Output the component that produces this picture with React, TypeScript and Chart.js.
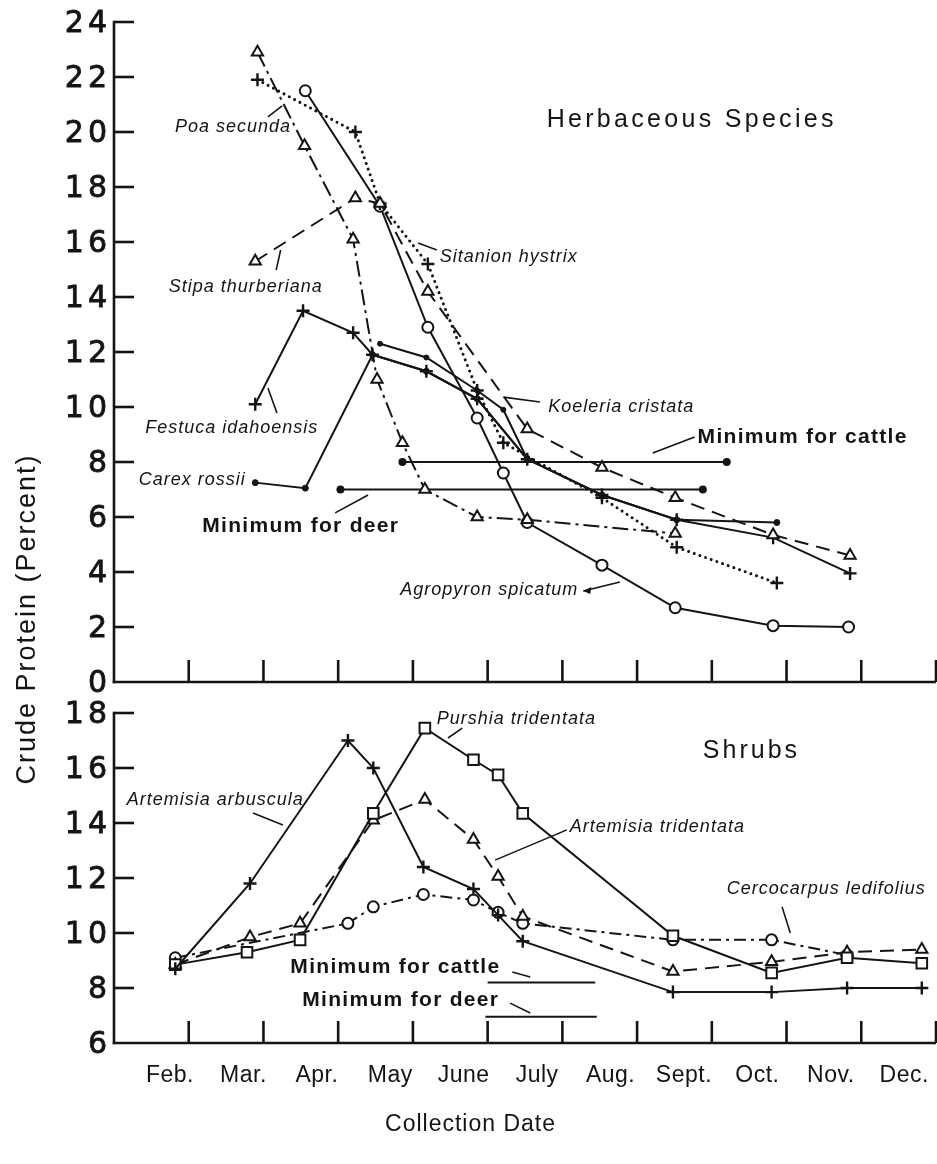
import React, { useEffect, useRef } from 'react';
import { Chart, registerables } from 'chart.js';

Chart.register(...registerables);

// ---------- axis tick data ----------
const monthLabels = ['Feb.', 'Mar.', 'Apr.', 'May', 'June', 'July', 'Aug.', 'Sept.', 'Oct.', 'Nov.', 'Dec.'];
const monthTicks = [1, 2, 3, 4, 5, 6, 7, 8, 9, 10, 11];
const herbTicks = [0, 2, 4, 6, 8, 10, 12, 14, 16, 18, 20, 22, 24];
const shrubTicks = [6, 8, 10, 12, 14, 16, 18];

// ---------- Herbaceous species (x = month position, Jan = 0, Feb = 1 ...) ----------
const poaX = [1.92, 2.55, 3.2, 3.52, 3.86, 4.16, 4.86, 5.53, 7.51];
const poaY = [22.9, 19.5, 16.1, 11.0, 8.7, 7.0, 6.0, 5.9, 5.4];

const stipaX = [1.89, 3.23, 3.56, 4.2, 5.53, 6.53, 7.51, 8.82, 9.85];
const stipaY = [15.3, 17.6, 17.4, 14.2, 9.2, 7.8, 6.7, 5.35, 4.6];

const sitanionX = [1.92, 3.23, 3.56, 4.2, 4.86, 5.21, 6.53, 7.53, 8.87];
const sitanionY = [21.9, 20.0, 17.4, 15.2, 10.6, 8.7, 6.7, 4.9, 3.6];

const agropyronX = [2.56, 3.56, 4.2, 4.86, 5.21, 5.53, 6.53, 7.51, 8.82, 9.83];
const agropyronY = [21.5, 17.3, 12.9, 9.6, 7.6, 5.8, 4.25, 2.7, 2.05, 2.0];

const festucaX = [1.89, 2.53, 3.2, 3.46, 4.18, 4.86, 5.53, 6.53, 7.53, 8.82, 9.85];
const festucaY = [10.1, 13.5, 12.7, 11.9, 11.3, 10.3, 8.1, 6.8, 5.9, 5.25, 3.95];

const carexX = [1.89, 2.56, 3.46, 4.18, 4.86, 5.53, 6.53, 7.53, 8.87];
const carexY = [7.25, 7.05, 11.9, 11.3, 10.3, 8.1, 6.8, 5.9, 5.8];

const koeleriaX = [3.56, 4.18, 4.86, 5.21, 5.53];
const koeleriaY = [12.3, 11.8, 10.6, 9.9, 8.1];

const herbCattleX = [3.86, 8.2];
const herbCattleY = [8.0, 8.0];
const herbDeerX = [3.03, 7.88];
const herbDeerY = [7.0, 7.0];

// ---------- Shrubs ----------
const arbusculaX = [0.82, 1.82, 3.13, 3.47, 4.14, 4.81, 5.14, 5.47, 7.48, 8.8, 9.81, 10.81];
const arbusculaY = [8.7, 11.8, 17.0, 16.0, 12.4, 11.6, 10.65, 9.7, 7.85, 7.85, 8.0, 8.0];

const purshiaX = [0.82, 1.78, 2.49, 3.47, 4.16, 4.81, 5.14, 5.47, 7.48, 8.8, 9.81, 10.81];
const purshiaY = [8.85, 9.3, 9.75, 14.35, 17.45, 16.3, 15.75, 14.35, 9.9, 8.55, 9.1, 8.9];

const tridentataX = [0.82, 1.82, 2.49, 3.47, 4.16, 4.81, 5.14, 5.47, 7.48, 8.8, 9.81, 10.81];
const tridentataY = [8.85, 9.85, 10.35, 14.1, 14.85, 13.4, 12.05, 10.6, 8.6, 8.95, 9.3, 9.4];

const cercocarpusX = [0.82, 3.13, 3.47, 4.14, 4.81, 5.14, 5.47, 7.48, 8.8, 9.81];
const cercocarpusY = [9.1, 10.35, 10.95, 11.4, 11.2, 10.75, 10.35, 9.75, 9.75, 9.2];

const shrubCattleX = [5.0, 6.44];
const shrubCattleY = [8.2, 8.2];
const shrubDeerX = [4.97, 6.46];
const shrubDeerY = [6.95, 6.95];

// ---------- text annotations (in data units of their panel) ----------
type Note = { text: string; x: number; y: number; align: CanvasTextAlign; font: string; sp: number };
const italic = 'italic 18px "Liberation Sans", Arial, sans-serif';
const minFont = 'bold 21px "Liberation Sans", Arial, sans-serif';
const headFont = '25px "Liberation Sans", Arial, sans-serif';

const herbNotes: Note[] = [
  { text: 'Herbaceous Species', x: 5.79, y: 20.44, align: 'left', font: headFont, sp: 3.3 },
  { text: 'Poa secunda', x: 2.355, y: 20.18, align: 'right', font: italic, sp: 1 },
  { text: 'Stipa thurberiana', x: 2.78, y: 14.36, align: 'right', font: italic, sp: 1 },
  { text: 'Festuca idahoensis', x: 2.72, y: 9.24, align: 'right', font: italic, sp: 1 },
  { text: 'Carex rossii', x: 1.75, y: 7.35, align: 'right', font: italic, sp: 1 },
  { text: 'Sitanion hystrix', x: 4.36, y: 15.45, align: 'left', font: italic, sp: 1 },
  { text: 'Koeleria cristata', x: 5.81, y: 10.0, align: 'left', font: italic, sp: 1 },
  { text: 'Agropyron spicatum', x: 6.2, y: 3.35, align: 'right', font: italic, sp: 1 },
  { text: 'Minimum for cattle', x: 7.81, y: 8.91, align: 'left', font: minFont, sp: 1.3 },
  { text: 'Minimum for deer', x: 3.8, y: 5.67, align: 'right', font: minFont, sp: 1.3 },
];
const herbLeaders = [
  [2.06, 20.55, 2.25, 20.95],
  [2.17, 14.98, 2.23, 15.71],
  [2.06, 10.69, 2.18, 9.78],
  [4.07, 15.96, 4.32, 15.71],
  [5.21, 10.36, 5.7, 10.18],
  [6.77, 3.64, 6.28, 3.31],
  [7.21, 8.33, 7.77, 8.91],
  [2.96, 6.15, 3.4, 6.8],
];
const shrubNotes: Note[] = [
  { text: 'Shrubs', x: 7.88, y: 16.62, align: 'left', font: headFont, sp: 3 },
  { text: 'Purshia tridentata', x: 4.32, y: 17.78, align: 'left', font: italic, sp: 1 },
  { text: 'Artemisia arbuscula', x: 0.17, y: 14.84, align: 'left', font: italic, sp: 1 },
  { text: 'Artemisia tridentata', x: 6.1, y: 13.85, align: 'left', font: italic, sp: 1 },
  { text: 'Cercocarpus ledifolius', x: 8.2, y: 11.6, align: 'left', font: italic, sp: 1 },
  { text: 'Minimum for cattle', x: 2.36, y: 8.76, align: 'left', font: minFont, sp: 1.3 },
  { text: 'Minimum for deer', x: 2.52, y: 7.56, align: 'left', font: minFont, sp: 1.3 },
];
const shrubLeaders = [
  [1.86, 14.36, 2.26, 13.93],
  [4.47, 17.09, 4.66, 17.45],
  [5.1, 12.65, 6.06, 13.75],
  [8.94, 10.95, 9.05, 10.0],
  [5.33, 8.58, 5.57, 8.4],
  [5.3, 7.45, 5.57, 7.09],
];

const ink = '#141414';
const tickFont = '30px "DejaVu Sans", sans-serif';
const monthFont = '23px "Liberation Sans", Arial, sans-serif';
const titleFont = '27px "Liberation Sans", Arial, sans-serif';

function pts(xs: number[], ys: number[]) {
  return xs.map((x, i) => ({ x, y: ys[i] }));
}

function seg(ctx: CanvasRenderingContext2D, x1: number, y1: number, x2: number, y2: number) {
  ctx.beginPath();
  ctx.moveTo(x1, y1);
  ctx.lineTo(x2, y2);
  ctx.stroke();
}

function text(ctx: CanvasRenderingContext2D, s: string, x: number, y: number, font: string, align: CanvasTextAlign, sp: number, heavy = 0) {
  ctx.font = font;
  ctx.textAlign = align;
  ctx.textBaseline = 'middle';
  (ctx as any).letterSpacing = sp + 'px';
  const dx = align === 'right' ? sp : align === 'center' ? sp / 2 : 0;
  ctx.fillText(s, x + dx, y);
  if (heavy > 0) {
    ctx.save();
    ctx.lineWidth = heavy;
    ctx.strokeText(s, x + dx, y);
    ctx.restore();
  }
  (ctx as any).letterSpacing = '0px';
}

const paperPlugin = {
  id: 'paper',
  beforeDatasetsDraw(chart: any) {
    const ctx: CanvasRenderingContext2D = chart.ctx;
    const sx = chart.scales.x;
    const panels = [
      { s: chart.scales.yHerb, lo: 0, hi: 24, ticks: herbTicks },
      { s: chart.scales.yShrub, lo: 6, hi: 18, ticks: shrubTicks },
    ];
    const left = sx.getPixelForValue(0);
    const right = sx.getPixelForValue(11);
    ctx.save();
    ctx.strokeStyle = ink;
    ctx.fillStyle = ink;
    ctx.lineWidth = 2.6;
    for (const p of panels) {
      const base = p.s.getPixelForValue(p.lo);
      const top = p.s.getPixelForValue(p.hi);
      seg(ctx, left, top - 1.3, left, base + 1.3);
      seg(ctx, left - 1.3, base, right, base);
      for (const v of p.ticks) {
        const y = p.s.getPixelForValue(v);
        if (v !== p.lo) seg(ctx, left, y, left + 20, y);
        text(ctx, String(v), left - 7, y + 2, tickFont, 'right', 4, 0.8);
      }
      for (const m of monthTicks) {
        const x = sx.getPixelForValue(m);
        seg(ctx, x, base, x, base - 22);
      }
    }
    // month names sit a little to the left of their ticks, drifting further left toward December
    const shrubBase = chart.scales.yShrub.getPixelForValue(6);
    monthTicks.forEach((m, i) => {
      text(ctx, monthLabels[i], sx.getPixelForValue(m) - 19 - i * 1.3, shrubBase + 33, monthFont, 'center', 0.5);
    });
    // axis titles
    text(ctx, 'Collection Date', 470, shrubBase + 82, '23px "Liberation Sans", Arial, sans-serif', 'center', 1);
    ctx.save();
    ctx.translate(28, 620);
    ctx.rotate(-Math.PI / 2);
    text(ctx, 'Crude Protein (Percent)', 0, 0, titleFont, 'center', 2);
    ctx.restore();
    ctx.restore();
  },
  afterDatasetsDraw(chart: any) {
    const ctx: CanvasRenderingContext2D = chart.ctx;
    const sx = chart.scales.x;
    ctx.save();
    ctx.fillStyle = ink;
    ctx.strokeStyle = ink;
    ctx.lineWidth = 1.6;
    const groups = [
      { s: chart.scales.yHerb, notes: herbNotes, leaders: herbLeaders },
      { s: chart.scales.yShrub, notes: shrubNotes, leaders: shrubLeaders },
    ];
    for (const g of groups) {
      for (const n of g.notes) {
        text(ctx, n.text, sx.getPixelForValue(n.x), g.s.getPixelForValue(n.y), n.font, n.align, n.sp);
      }
      for (const l of g.leaders) {
        seg(ctx, sx.getPixelForValue(l[0]), g.s.getPixelForValue(l[1]), sx.getPixelForValue(l[2]), g.s.getPixelForValue(l[3]));
      }
    }
    // arrowhead on the Agropyron leader
    const a = herbLeaders[5];
    const hx = sx.getPixelForValue(a[2]);
    const hy = chart.scales.yHerb.getPixelForValue(a[3]);
    ctx.beginPath();
    ctx.moveTo(hx, hy);
    ctx.lineTo(hx + 8, hy - 4);
    ctx.lineTo(hx + 7, hy + 3);
    ctx.closePath();
    ctx.fill();
    ctx.restore();
  },
};

const base = { borderColor: ink, borderWidth: 2, tension: 0, fill: false, pointBorderColor: ink, pointBorderWidth: 2, pointBackgroundColor: '#fff', xAxisID: 'x' };
const tri = { pointStyle: 'triangle', pointRadius: 6.5 };
const plus = { pointStyle: 'cross', pointRadius: 6.5, pointBorderWidth: 2.4 };
const ring = { pointStyle: 'circle', pointRadius: 5.5 };
const box = { pointStyle: 'rect', pointRadius: 7.5 };
const dot = { pointStyle: 'circle', pointRadius: 3, pointBackgroundColor: ink, pointBorderWidth: 1 };
const dashed = { borderDash: [14, 8] };
const dashDot = { borderDash: [16, 5, 3, 5] };
const dotted = { borderDash: [0.01, 6], borderCapStyle: 'round', borderWidth: 3 };
const refLine = { pointRadius: 0, order: 10 };

export default function App() {
  const ref = useRef<HTMLCanvasElement>(null);
  useEffect(() => {
    const canvas = ref.current;
    if (!canvas) return;
    const H = 'yHerb';
    const S = 'yShrub';
    const chart = new Chart(canvas, {
      type: 'line',
      data: {
        datasets: [
          { label: 'Poa secunda', data: pts(poaX, poaY), yAxisID: H, ...base, ...tri, ...dashDot },
          { label: 'Stipa thurberiana', data: pts(stipaX, stipaY), yAxisID: H, ...base, ...tri, ...dashed },
          { label: 'Sitanion hystrix', data: pts(sitanionX, sitanionY), yAxisID: H, ...base, ...plus, ...dotted },
          { label: 'Agropyron spicatum', data: pts(agropyronX, agropyronY), yAxisID: H, ...base, ...ring },
          { label: 'Festuca idahoensis', data: pts(festucaX, festucaY), yAxisID: H, ...base, ...plus },
          { label: 'Carex rossii', data: pts(carexX, carexY), yAxisID: H, ...base, ...dot },
          { label: 'Koeleria cristata', data: pts(koeleriaX, koeleriaY), yAxisID: H, ...base, ...dot, pointRadius: 2.5 },
          { label: 'Minimum for cattle (herbs)', data: pts(herbCattleX, herbCattleY), yAxisID: H, ...base, ...refLine, pointRadius: 3, pointBackgroundColor: ink },
          { label: 'Minimum for deer (herbs)', data: pts(herbDeerX, herbDeerY), yAxisID: H, ...base, ...refLine, pointRadius: 3, pointBackgroundColor: ink },
          { label: 'Artemisia arbuscula', data: pts(arbusculaX, arbusculaY), yAxisID: S, ...base, ...plus },
          { label: 'Purshia tridentata', data: pts(purshiaX, purshiaY), yAxisID: S, ...base, ...box },
          { label: 'Artemisia tridentata', data: pts(tridentataX, tridentataY), yAxisID: S, ...base, ...tri, ...dashed },
          { label: 'Cercocarpus ledifolius', data: pts(cercocarpusX, cercocarpusY), yAxisID: S, ...base, ...ring, borderDash: [12, 5, 3, 5] },
          { label: 'Minimum for cattle (shrubs)', data: pts(shrubCattleX, shrubCattleY), yAxisID: S, ...base, ...refLine },
          { label: 'Minimum for deer (shrubs)', data: pts(shrubDeerX, shrubDeerY), yAxisID: S, ...base, ...refLine },
        ] as any,
      },
      options: {
        responsive: false,
        animation: false,
        devicePixelRatio: 1,
        layout: { autoPadding: false, padding: { left: 114, right: 1, top: 22, bottom: 121 } },
        plugins: { legend: { display: false }, tooltip: { enabled: false }, title: { display: false } },
        events: [],
        scales: {
          x: { type: 'linear', min: 0, max: 11, display: false },
          yShrub: { type: 'linear', position: 'left', stack: 'panels', stackWeight: 13.127, weight: 1, min: 6, max: 19.127, display: false },
          yHerb: { type: 'linear', position: 'left', stack: 'panels', stackWeight: 24, weight: 2, min: 0, max: 24, display: false },
        },
      } as any,
      plugins: [paperPlugin],
    });
    return () => chart.destroy();
  }, []);
  return (
    <div style={{ position: 'absolute', left: 0, top: 0, width: 937, height: 1164, background: '#fff' }}>
      <canvas ref={ref} width={937} height={1164} style={{ display: 'block', width: 937, height: 1164 }} />
    </div>
  );
}
